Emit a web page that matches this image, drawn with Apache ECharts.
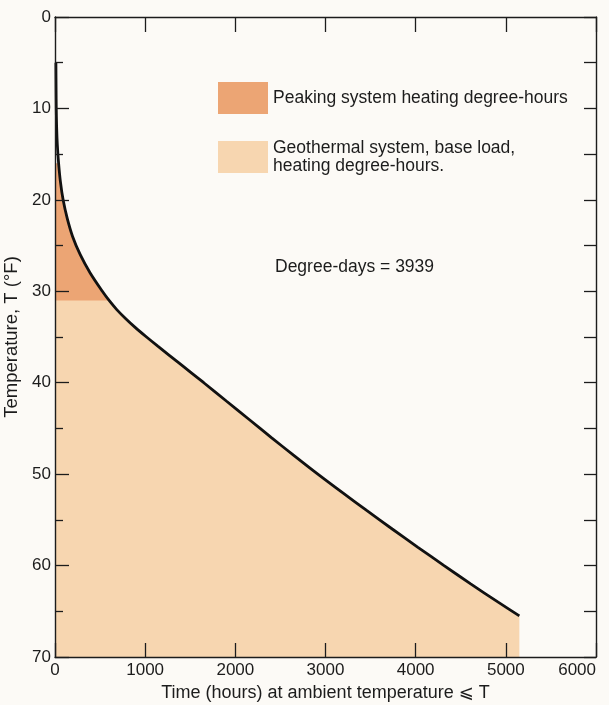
<!DOCTYPE html>
<html>
<head>
<meta charset="utf-8">
<title>Heating degree-hours duration curve</title>
<script src="https://cdn.jsdelivr.net/npm/echarts@6/dist/echarts.min.js"></script>
<style>
  html, body { margin: 0; padding: 0; background: #fcfaf6; }
  #chart { width: 609px; height: 705px; }
</style>
</head>
<body>
<div id="chart"></div>
<script>
// Ambient temperature (°F) and cumulative hours per year at or below that temperature
const tempF = [5, 8, 10, 12, 14, 16, 18, 20, 22, 24, 26, 28, 30, 31, 32, 33, 34, 35, 36, 38, 40, 42, 44, 46, 48, 50, 52, 54, 56, 58, 60, 62, 64, 65.5];
const hoursAtOrBelow = [10, 12, 14, 18, 26, 40, 60, 90, 135, 195, 280, 390, 525, 600, 685, 785, 895, 1015, 1140, 1395, 1650, 1900, 2150, 2400, 2655, 2915, 3185, 3460, 3740, 4025, 4315, 4610, 4915, 5150];

// Split between peaking and base-load (geothermal) heating
const peakingStartF = 16;
const peakingLimitF = 31;

// Axis ranges and tick steps
const hoursTicks = [0, 1000, 2000, 3000, 4000, 5000, 6000];
const tempTicks = [0, 10, 20, 30, 40, 50, 60, 70];

const seriesNames = ['Peaking system heating degree-hours', 'Geothermal system, base load,\nheating degree-hours.'];
const degreeDays = 3939;

const peakColor = '#eca574';
const baseColor = '#f7d6b0';
const ink = '#1c1c1c';
const font = '"Liberation Sans", Arial, "DejaVu Sans", sans-serif';

const curve = tempF.map((t, i) => [hoursAtOrBelow[i], t]);
const peakingArea = [[0, peakingStartF]].concat(curve.filter(p => p[1] >= peakingStartF && p[1] <= peakingLimitF));
const baseArea = [[0, peakingLimitF]].concat(curve.filter(p => p[1] >= peakingLimitF));

const xMin = hoursTicks[0], xMax = hoursTicks[hoursTicks.length - 1], xStep = hoursTicks[1] - hoursTicks[0];
const yMin = tempTicks[0], yMax = tempTicks[tempTicks.length - 1], yStep = tempTicks[1] - tempTicks[0];

const chart = echarts.init(document.getElementById('chart'), null, { renderer: 'canvas' });

const axisLine = { show: true, onZero: false, lineStyle: { color: ink, width: 1.4 } };
const smoothing = 0.3;

chart.setOption({
  backgroundColor: '#fcfaf6',
  animation: false,
  textStyle: { fontFamily: font },
  grid: { left: 55, right: 13, top: 17, bottom: 48, containLabel: false, outerBoundsMode: 'none' },
  legend: {
    orient: 'vertical',
    left: 213,
    top: 77,
    itemWidth: 50,
    itemHeight: 32,
    itemGap: 25,
    selectedMode: false,
    itemStyle: { borderWidth: 0 },
    textStyle: { fontSize: 17.5, color: ink, fontFamily: font, lineHeight: 18 },
    data: [
      { name: seriesNames[0], icon: 'rect', itemStyle: { color: peakColor } },
      { name: seriesNames[1], icon: 'rect', itemStyle: { color: baseColor } }
    ]
  },
  graphic: [{
    type: 'text',
    left: 275,
    top: 258,
    style: { text: 'Degree-days = ' + degreeDays, font: '17.5px ' + font, fill: ink }
  }],
  xAxis: [{
    type: 'value',
    position: 'bottom',
    z: 10,
    min: xMin, max: xMax, interval: xStep,
    axisLine: axisLine,
    axisTick: { show: true, inside: true, length: 14, lineStyle: { color: ink, width: 1.3 } },
    axisLabel: {
      show: true, margin: 5, fontSize: 17, color: ink, fontFamily: font,
      formatter: v => String(v),
      alignMaxLabel: 'right'
    },
    splitLine: { show: false },
    name: 'Time (hours) at ambient temperature \u2A7D T',
    nameLocation: 'middle',
    nameGap: 26,
    nameTextStyle: { fontSize: 18, color: ink, fontFamily: font }
  }, {
    type: 'value',
    position: 'top',
    z: 10,
    min: xMin, max: xMax, interval: xStep,
    axisLine: axisLine,
    axisTick: { show: true, inside: true, length: 15, lineStyle: { color: ink, width: 1.3 } },
    axisLabel: { show: false },
    splitLine: { show: false }
  }],
  yAxis: [{
    type: 'value',
    position: 'left',
    z: 10,
    inverse: true,
    min: yMin, max: yMax, interval: yStep,
    axisLine: axisLine,
    axisTick: { show: true, inside: true, length: 14, lineStyle: { color: ink, width: 1.3 } },
    minorTick: { show: true, splitNumber: 2, length: 8, lineStyle: { color: ink, width: 1.3 } },
    axisLabel: { show: true, margin: 4, fontSize: 17, color: ink, fontFamily: font },
    splitLine: { show: false },
    minorSplitLine: { show: false },
    name: 'Temperature, T (\u00B0F)',
    nameLocation: 'middle',
    nameGap: 24,
    nameRotate: 90,
    nameTextStyle: { fontSize: 18.5, color: ink, fontFamily: font }
  }, {
    type: 'value',
    position: 'right',
    z: 10,
    inverse: true,
    min: yMin, max: yMax, interval: yStep / 2,
    axisLine: axisLine,
    axisTick: { show: true, inside: true, length: 12, lineStyle: { color: ink, width: 1.3 } },
    axisLabel: { show: false },
    splitLine: { show: false }
  }],
  series: [{
    name: seriesNames[0],
    type: 'line',
    data: peakingArea,
    color: peakColor,
    showSymbol: false,
    symbol: 'none',
    smooth: smoothing,
    lineStyle: { width: 0, opacity: 0 },
    areaStyle: { color: peakColor, opacity: 1, origin: 'end' },
    z: 1,
    silent: true
  }, {
    name: seriesNames[1],
    type: 'line',
    data: baseArea,
    color: baseColor,
    showSymbol: false,
    symbol: 'none',
    smooth: smoothing,
    lineStyle: { width: 0, opacity: 0 },
    areaStyle: { color: baseColor, opacity: 1, origin: 'end' },
    z: 2,
    silent: true
  }, {
    name: 'duration curve',
    type: 'line',
    data: curve,
    showSymbol: false,
    symbol: 'none',
    smooth: smoothing,
    lineStyle: { color: '#111', width: 2.8 },
    z: 3,
    silent: true
  }]
});
</script>
</body>
</html>
